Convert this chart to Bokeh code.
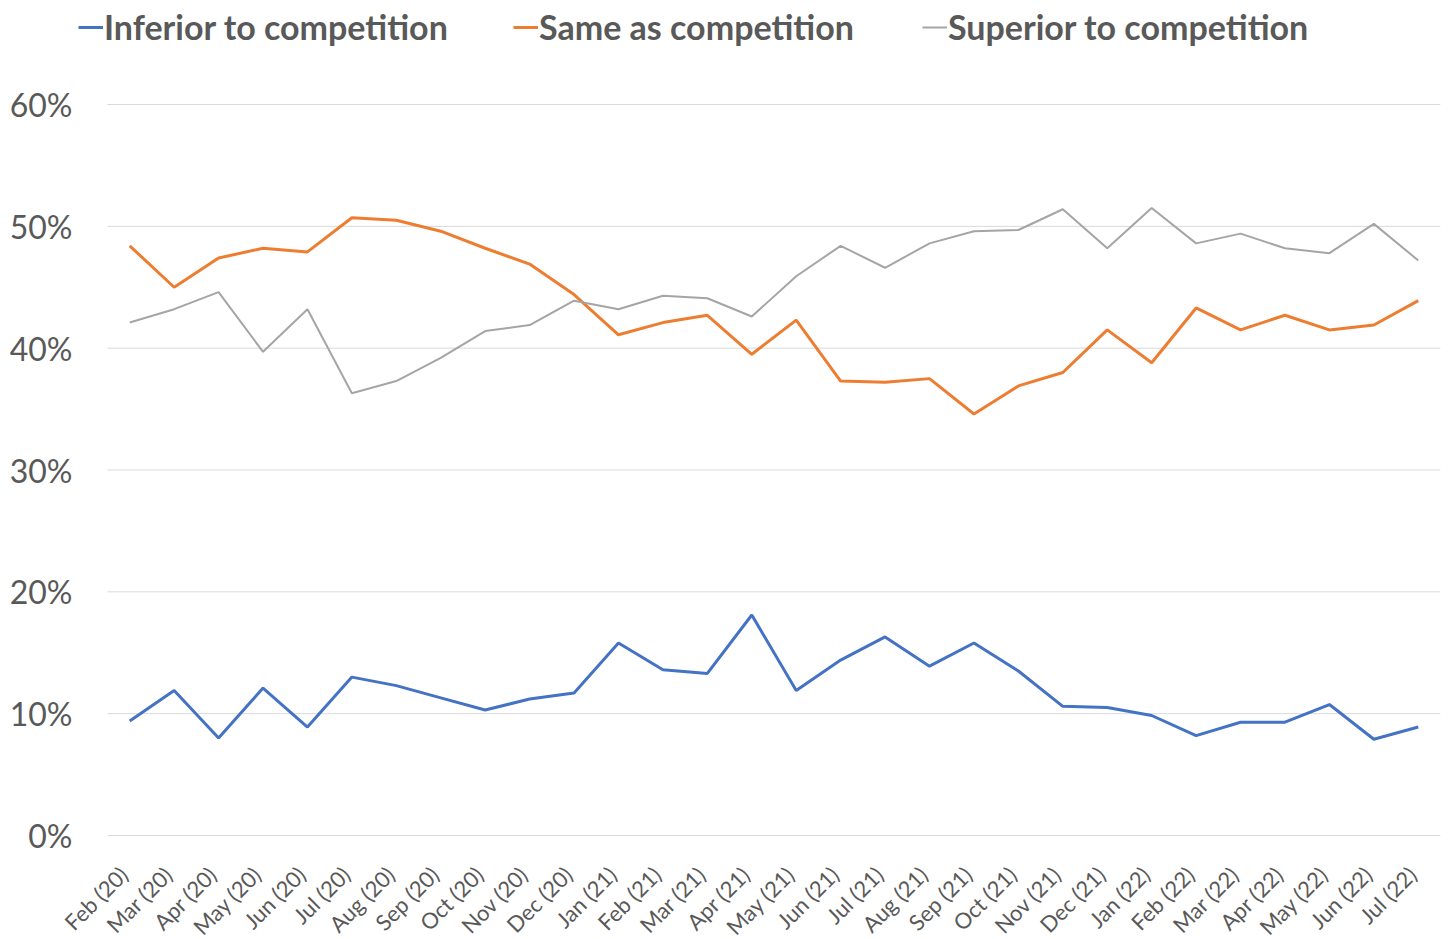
from bokeh.plotting import figure
from bokeh.models import ColumnDataSource, Legend, LegendItem
from bokeh.core.properties import value
from bokeh.embed import file_html
from bokeh.resources import INLINE
import math

months = ["Feb (20)", "Mar (20)", "Apr (20)", "May (20)", "Jun (20)", "Jul (20)", "Aug (20)",
          "Sep (20)", "Oct (20)", "Nov (20)", "Dec (20)", "Jan (21)", "Feb (21)", "Mar (21)",
          "Apr (21)", "May (21)", "Jun (21)", "Jul (21)", "Aug (21)", "Sep (21)", "Oct (21)",
          "Nov (21)", "Dec (21)", "Jan (22)", "Feb (22)", "Mar (22)", "Apr (22)", "May (22)",
          "Jun (22)", "Jul (22)"]

inferior = [9.4, 11.9, 8.0, 12.1, 8.9, 13.0, 12.3, 11.3, 10.3, 11.2, 11.7, 15.8, 13.6, 13.3,
            18.1, 11.9, 14.4, 16.3, 13.9, 15.8, 13.5, 10.6, 10.5, 9.85, 8.2, 9.3, 9.3, 10.75,
            7.9, 8.9]
same = [48.4, 45.0, 47.4, 48.2, 47.9, 50.7, 50.5, 49.6, 48.2, 46.9, 44.4, 41.1, 42.1, 42.7,
        39.5, 42.3, 37.3, 37.2, 37.5, 34.6, 36.9, 38.0, 41.5, 38.8, 43.3, 41.5, 42.7, 41.5,
        41.9, 43.9]
superior = [42.1, 43.2, 44.6, 39.7, 43.2, 36.3, 37.3, 39.2, 41.4, 41.9, 43.9, 43.2, 44.3, 44.1,
            42.6, 45.9, 48.4, 46.6, 48.6, 49.6, 49.7, 51.4, 48.2, 51.5, 48.6, 49.4, 48.2, 47.8,
            50.2, 47.2]
series_names = ["Inferior to competition", "Same as competition", "Superior to competition"]
y_ticks = [0, 10, 20, 30, 40, 50, 60]
y_tick_labels = ["0%", "10%", "20%", "30%", "40%", "50%", "60%"]

n = len(months)
idx = list(range(n))
src = ColumnDataSource(dict(x=idx, inferior=inferior, same=same, superior=superior))

# layout geometry (pixels)
W, H = 1449, 939
plot_left_px, plot_right_px = 107, 1440
zero_px = 835
y_px_per_unit = 731 / 60.0
x_px_per_unit = (plot_right_px - plot_left_px) / n
x_start = -0.5 - plot_left_px / x_px_per_unit
x_end = n - 0.5
y_start = -(H - zero_px) / y_px_per_unit
y_end = zero_px / y_px_per_unit

p = figure(width=W, height=H, output_backend="svg", toolbar_location=None,
           x_range=(x_start, x_end), y_range=(y_start, y_end),
           x_axis_location=None, y_axis_location=None,
           min_border_left=0, min_border_right=W - plot_right_px, min_border_top=0,
           min_border_bottom=0)
p.outline_line_color = None
p.background_fill_color = "white"
p.xgrid.visible = False
p.ygrid.visible = False

text_color = "#595959"
font = "Lato"

# horizontal gridlines and y tick labels
gsrc = ColumnDataSource(dict(x0=[-0.5] * len(y_ticks), x1=[n - 0.5] * len(y_ticks),
                             y=y_ticks, lab=y_tick_labels))
p.segment(x0="x0", y0="y", x1="x1", y1="y", source=gsrc, line_color="#D9D9D9", line_width=1)
p.text(x="x0", y="y", text="lab", source=gsrc, x_offset=-35, text_align="right",
       text_baseline="middle", text_font=value(font), text_font_size="32px",
       text_color=text_color)

# x tick labels (rotated)
xsrc = ColumnDataSource(dict(x=idx, y=[0] * n, lab=months))
p.text(x="x", y="y", text="lab", source=xsrc, angle=math.pi / 4, x_offset=-6, y_offset=35,
       text_align="right", text_baseline="middle", text_font=value(font),
       text_font_size="22px", text_color=text_color)

r1 = p.line("x", "inferior", source=src, line_color="#4472C4", line_width=3)
r2 = p.line("x", "same", source=src, line_color="#ED7D31", line_width=3)
r3 = p.line("x", "superior", source=src, line_color="#A5A5A5", line_width=2)

leg_x = [78, 513, 922]
for r, name, lx in zip([r1, r2, r3], series_names, leg_x):
    lg = Legend(items=[LegendItem(label=name, renderers=[r])], location=(lx, 892),
                orientation="horizontal", glyph_width=25, glyph_height=36, label_height=36,
                label_standoff=1, padding=0, margin=0, spacing=0,
                border_line_color=None, background_fill_alpha=0,
                label_text_font=font, label_text_font_style="bold",
                label_text_font_size="34px", label_text_color=text_color)
    p.add_layout(lg)

open("out.html", "w").write(file_html(p, INLINE))
